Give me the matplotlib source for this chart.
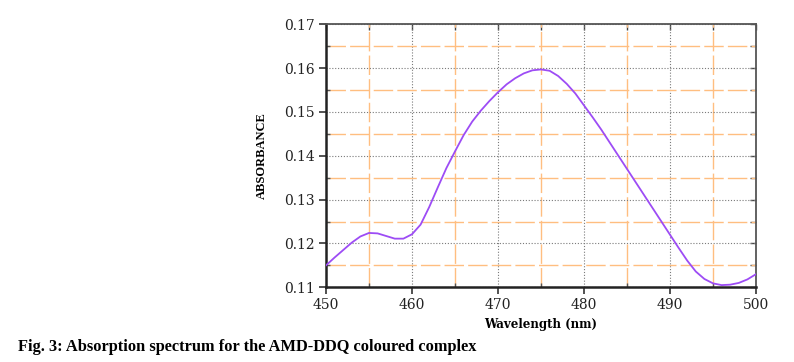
import matplotlib
matplotlib.use("Agg")
import matplotlib.pyplot as plt
from matplotlib.ticker import MultipleLocator

wavelength = list(range(450, 501))
absorbance = [
    0.1150, 0.1168, 0.1185, 0.1202, 0.1216, 0.1224, 0.1223, 0.1217, 0.1211, 0.1211,
    0.1221, 0.1243, 0.1283, 0.1328, 0.1372, 0.1410, 0.1447, 0.1478, 0.1503, 0.1525,
    0.1545, 0.1563, 0.1577, 0.1588, 0.1595, 0.1597, 0.1594, 0.1582, 0.1564, 0.1542,
    0.1515, 0.1488, 0.1460, 0.1430, 0.1400, 0.1370, 0.1340, 0.1310, 0.1280, 0.1250,
    0.1220, 0.1190, 0.1161, 0.1136, 0.1119, 0.1109, 0.1105, 0.1106, 0.1110, 0.1118,
    0.1130,
]
x_ticks = [450, 460, 470, 480, 490, 500]
y_ticks = [0.11, 0.12, 0.13, 0.14, 0.15, 0.16, 0.17]
x_label = "Wavelength (nm)"
y_label = "ABSORBANCE"
caption = "Fig. 3: Absorption spectrum for the AMD-DDQ coloured complex"

fig = plt.figure(figsize=(7.94, 3.62), dpi=100)
ax = fig.add_axes([326/794, 1-287.3/362, (756-326)/794, (287.3-24.3)/362])

ax.plot(wavelength, absorbance, color="#9d4cf5", lw=1.3, zorder=3,
        solid_joinstyle="round")
ax.set_xlim(450, 500)
ax.set_ylim(0.11, 0.17)
ax.set_xticks(x_ticks)
ax.set_yticks(y_ticks)
ax.set_xticklabels([str(v) for v in x_ticks])
ax.set_yticklabels([f"{v:.2f}" for v in y_ticks])
ax.xaxis.set_minor_locator(MultipleLocator(5))
ax.yaxis.set_minor_locator(MultipleLocator(0.005))

ax.grid(which="major", color="#7a7a7a", linestyle=(0, (1, 1.6)), lw=0.8, zorder=1)
ax.grid(which="minor", color="#ffbe80", linestyle=(0, (14, 3)), lw=1.0, zorder=1)

for lab in ax.get_xticklabels() + ax.get_yticklabels():
    lab.set_fontfamily("DejaVu Serif")
    lab.set_fontsize(10)
    lab.set_color("#222222")

ax.tick_params(which="major", direction="out", length=5, width=1.2, color="#333333", pad=3)
ax.tick_params(which="minor", direction="in", length=3, width=1.0, color="#555555")

for side in ["left", "bottom"]:
    ax.spines[side].set_linewidth(1.8)
    ax.spines[side].set_color("#222222")
for side in ["top", "right"]:
    ax.spines[side].set_linewidth(1.3)
    ax.spines[side].set_color("#555555")

secx = ax.secondary_xaxis("top")
secx.set_xticks(x_ticks)
secx.xaxis.set_minor_locator(MultipleLocator(5))
secx.tick_params(which="both", direction="in", length=4, width=1.0, color="#444444", labeltop=False)
secx.spines["top"].set_visible(False)
secy = ax.secondary_yaxis("right")
secy.set_yticks(y_ticks)
secy.yaxis.set_minor_locator(MultipleLocator(0.005))
secy.tick_params(which="both", direction="in", length=4, width=1.0, color="#444444", labelright=False)
secy.spines["right"].set_visible(False)

ax.set_xlabel(x_label, family="DejaVu Serif", weight="bold", size=8.5, labelpad=4)
ax.set_ylabel(y_label, family="Liberation Serif", weight="bold", size=9, labelpad=12)

fig.text(18/794, 1-347/362, caption, family="Liberation Serif", weight="bold",
         size=11.8, ha="left", va="center")

fig.savefig("out.png", dpi=100)
